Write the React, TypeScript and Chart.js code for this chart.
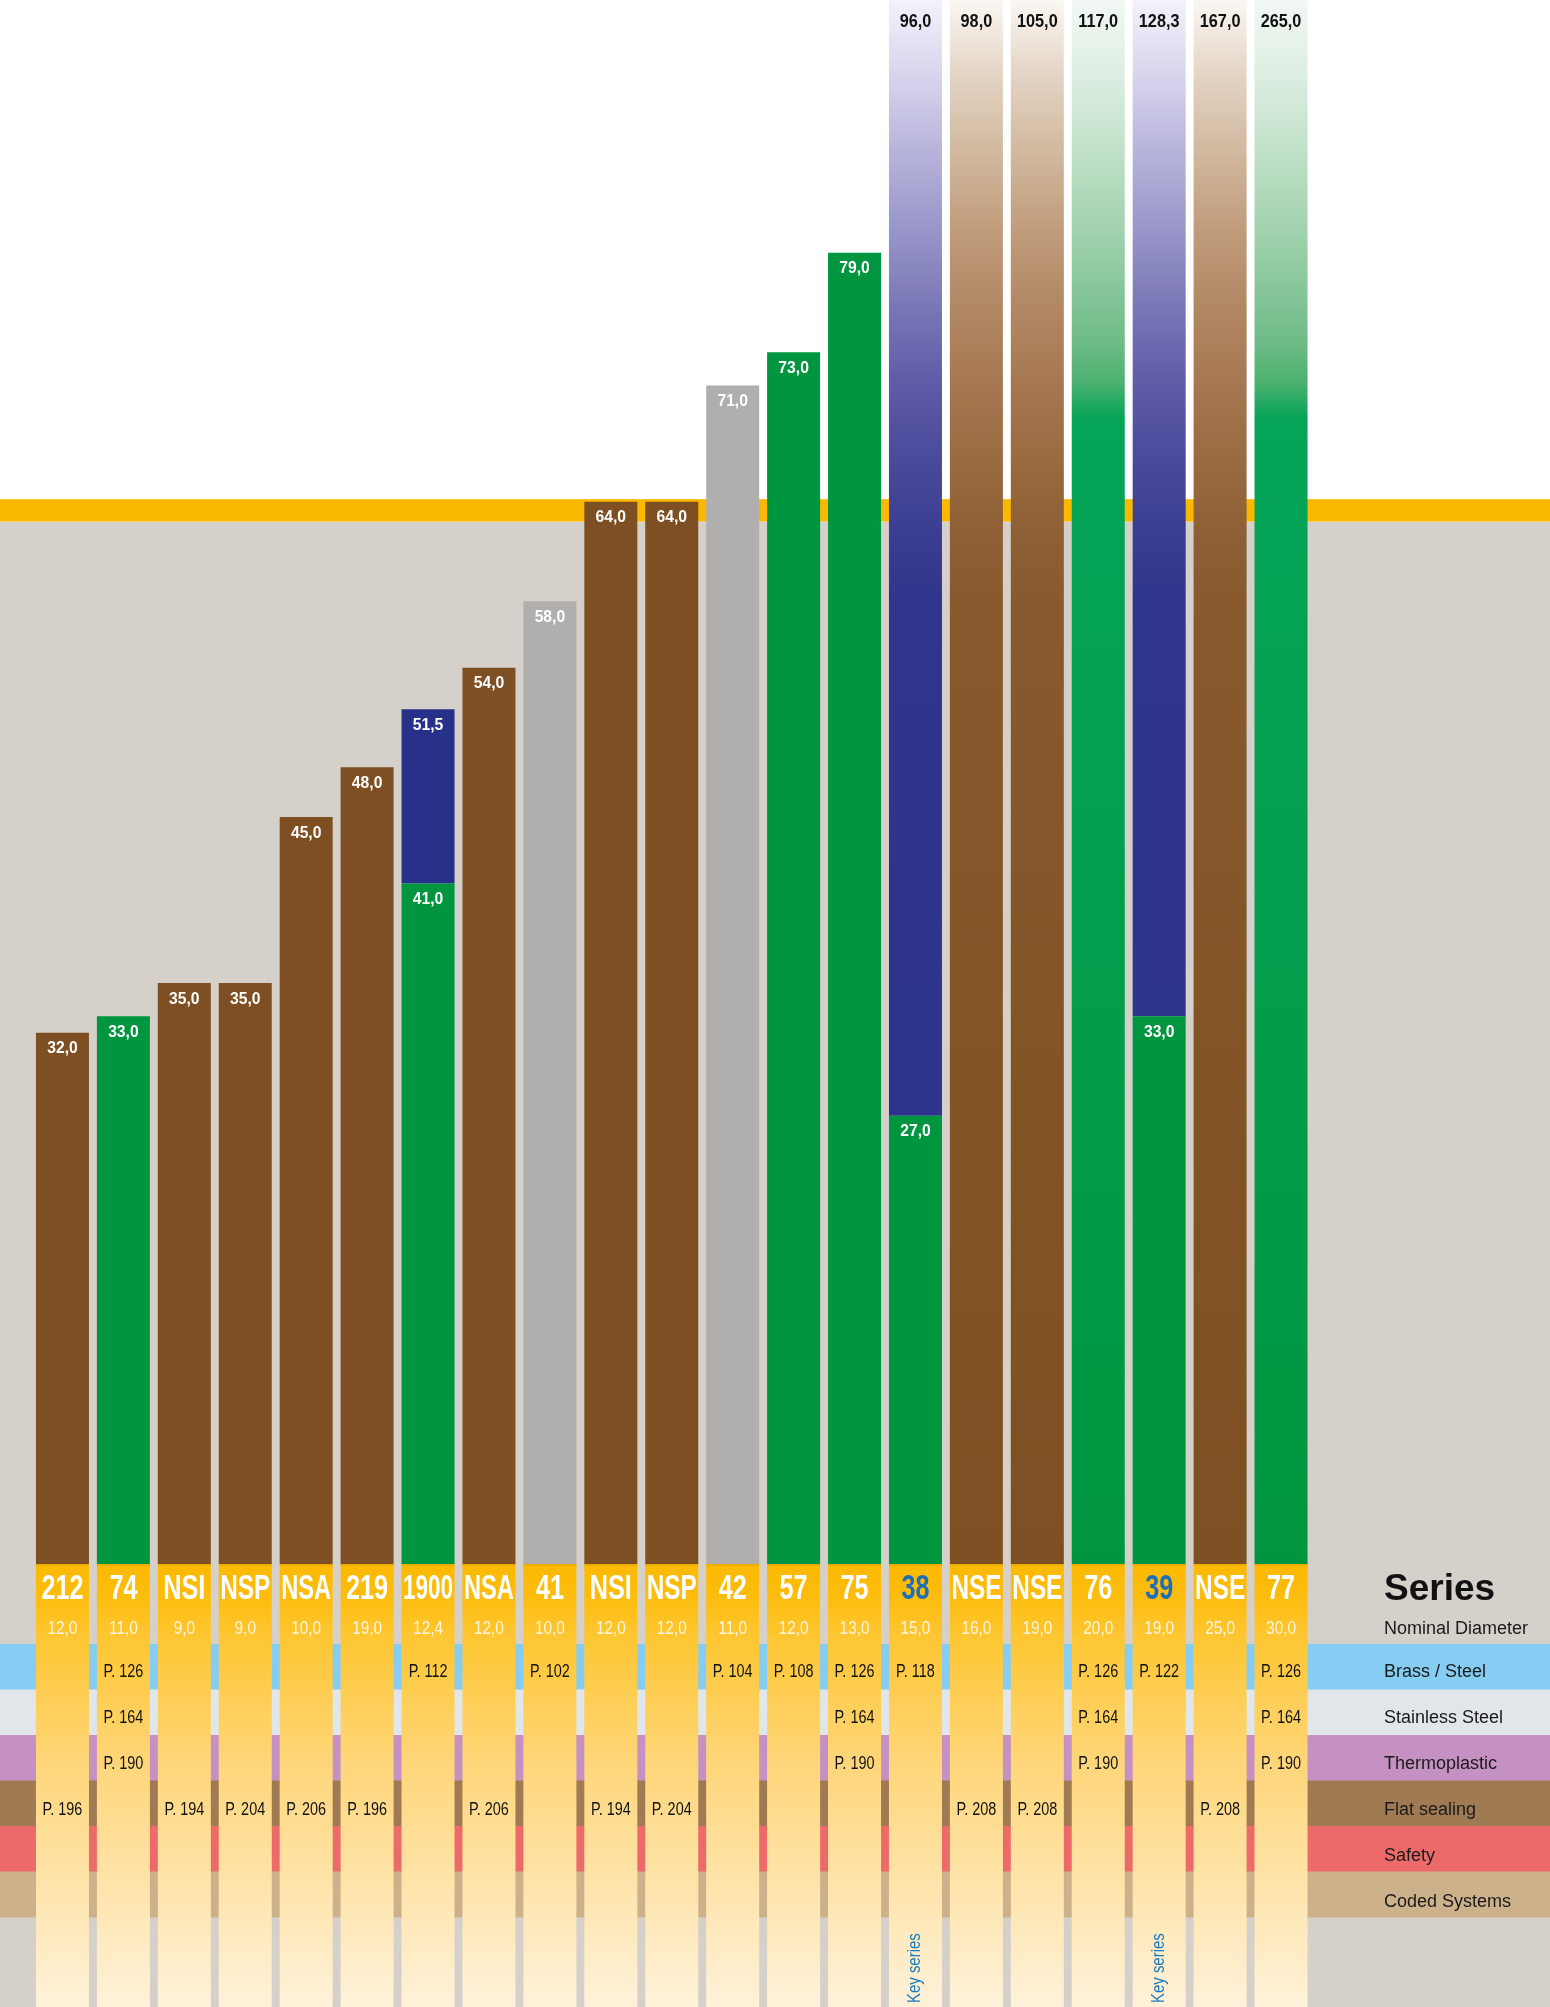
import { useEffect, useRef } from 'react';
import { Chart, registerables } from 'chart.js';

Chart.register(...registerables);

// ---------- DATA ----------
const SERIES = ['212', '74', 'NSI', 'NSP', 'NSA', '219', '1900', 'NSA', '41', 'NSI', 'NSP', '42', '57', '75', '38', 'NSE', 'NSE', '76', '39', 'NSE', '77'];
const DIAMETERS = ['12,0', '11,0', '9,0', '9,0', '10,0', '19,0', '12,4', '12,0', '10,0', '12,0', '12,0', '11,0', '12,0', '13,0', '15,0', '16,0', '19,0', '20,0', '19,0', '25,0', '30,0'];
const TOTALS = [32, 33, 35, 35, 45, 48, 51.5, 54, 58, 64, 64, 71, 73, 79, 96, 98, 105, 117, 128.3, 167, 265];
const SPLITS: (number | null)[] = [null, null, null, null, null, null, 41, null, null, null, null, null, null, null, 27, null, null, null, 33, null, null];
const MATERIAL = ['brown', 'green', 'brown', 'brown', 'brown', 'brown', 'green', 'brown', 'gray', 'brown', 'brown', 'gray', 'green', 'green', 'green', 'brown', 'brown', 'green', 'green', 'brown', 'green'];
const UPPER_MATERIAL = 'blue';
const KEY_SERIES = [14, 18];

const ROW_LABELS = ['Brass / Steel', 'Stainless Steel', 'Thermoplastic', 'Flat sealing', 'Safety', 'Coded Systems'];
const BRASS = ['', 'P. 126', '', '', '', '', 'P. 112', '', 'P. 102', '', '', 'P. 104', 'P. 108', 'P. 126', 'P. 118', '', '', 'P. 126', 'P. 122', '', 'P. 126'];
const STAINLESS = ['', 'P. 164', '', '', '', '', '', '', '', '', '', '', '', 'P. 164', '', '', '', 'P. 164', '', '', 'P. 164'];
const THERMO = ['', 'P. 190', '', '', '', '', '', '', '', '', '', '', '', 'P. 190', '', '', '', 'P. 190', '', '', 'P. 190'];
const FLAT = ['P. 196', '', 'P. 194', 'P. 204', 'P. 206', 'P. 196', '', 'P. 206', '', 'P. 194', 'P. 204', '', '', '', '', 'P. 208', 'P. 208', '', '', 'P. 208', ''];
const SAFETY = SERIES.map(() => '');
const CODED = SERIES.map(() => '');
const PAGE_ROWS = [BRASS, STAINLESS, THERMO, FLAT, SAFETY, CODED];

const Y_MAX = 94.22;
const BAND_FROM = 62.8;
const BAND_TO = 64.15;

// ---------- STYLE ----------
const W = 1550;
const H = 2007;
const FONT = "'Liberation Sans', Arial, sans-serif";
const SOLID: Record<string, string> = { brown: '#7e4f22', green: '#009640', gray: '#b0afad', blue: '#28318a' };
const FADE: Record<string, [number, string][]> = {
  brown: [[0, '#faf7f3'], [77, '#e3d3c3'], [153, '#d1b89e'], [230, '#c09c7b'], [306, '#b28864'], [382, '#a57852'], [459, '#996b40'], [536, '#8e5f34'], [597, '#895a2e'], [1100, '#825325'], [1564, '#7e4f22']],
  green: [[0, '#f2f8f4'], [77, '#dcede1'], [153, '#bfe0c7'], [230, '#a1d2ad'], [306, '#80c394'], [344, '#6dbb85'], [382, '#4bb170'], [419, '#05a457'], [1564, '#009640']],
  blue: [[0, '#f3f2fa'], [77, '#d6d4ec'], [153, '#b6b3db'], [230, '#9896c9'], [306, '#7a77b7'], [382, '#5f5ca8'], [459, '#4a4a9b'], [536, '#3a3d91'], [597, '#30368b'], [1564, '#28318a']],
};
const ROW_COLORS = ['#85cdf2', '#e1e6ea', '#c590c2', '#a07a52', '#ec6b6a', '#cdb18a'];
const BG_GRAY = '#d5d0ca';
const BAND_ORANGE = '#fbb800';
const ROW_TOP = 1644;
const ROW_H = 45.5;

const fmt = (v: number) => v.toFixed(1).replace('.', ',');

function fill(chart: any, mat: string, truncated: boolean) {
  const area = chart.chartArea;
  if (!truncated || !area) return SOLID[mat];
  const g = chart.ctx.createLinearGradient(0, area.top, 0, area.bottom);
  const span = area.bottom - area.top;
  FADE[mat].forEach(([y, c]) => g.addColorStop(Math.min(1, y / span), c));
  return g;
}

function txt(ctx: CanvasRenderingContext2D, s: string, x: number, y: number, font: string, color: string, sx = 1, align: CanvasTextAlign = 'center', maxW = 0) {
  ctx.save();
  ctx.font = font;
  let k = sx;
  if (maxW > 0) {
    const w = ctx.measureText(s).width;
    k = Math.min(sx, maxW / w);
  }
  ctx.translate(x, y);
  ctx.scale(k, 1);
  ctx.fillStyle = color;
  ctx.textAlign = align;
  ctx.textBaseline = 'middle';
  ctx.fillText(s, 0, 0);
  ctx.restore();
}

const backgroundPlugin = {
  id: 'bgPlugin',
  beforeDraw(chart: any) {
    const { ctx, scales } = chart;
    const y = scales.y;
    const bTop = y.getPixelForValue(BAND_TO);
    const bBot = y.getPixelForValue(BAND_FROM);
    ctx.save();
    ctx.fillStyle = '#ffffff';
    ctx.fillRect(0, 0, W, H);
    ctx.fillStyle = BG_GRAY;
    ctx.fillRect(0, bBot, W, H - bBot);
    ctx.fillStyle = BAND_ORANGE;
    ctx.fillRect(0, bTop, W, bBot - bTop);
    ROW_COLORS.forEach((c, k) => {
      ctx.fillStyle = c;
      ctx.fillRect(0, ROW_TOP + k * ROW_H, W, ROW_H + 0.5);
    });
    ctx.restore();
  },
  afterDatasetsDraw(chart: any) {
    const { ctx, chartArea, scales } = chart;
    const y = scales.y;
    const meta = chart.getDatasetMeta(0);
    const colTop = chartArea.bottom;
    ctx.save();
    meta.data.forEach((el: any, i: number) => {
      const { x, width } = el.getProps(['x', 'width'], true);
      const g = ctx.createLinearGradient(0, colTop, 0, H);
      g.addColorStop(0, '#fcb900');
      g.addColorStop(0.08, '#fdbd10');
      g.addColorStop(0.16, '#fec631');
      g.addColorStop(0.45, '#fed67a');
      g.addColorStop(0.8, '#fee8b8');
      g.addColorStop(1, '#fff2da');
      ctx.fillStyle = g;
      ctx.fillRect(x - width / 2, colTop, width, H - colTop);
      ctx.fillStyle = '#e9ab00';
      ctx.fillRect(x - width / 2, colTop, width, 1.5);

      const nameColor = KEY_SERIES.includes(i) ? '#1f6fb8' : '#ffffff';
      txt(ctx, SERIES[i], x, 1589, `bold 35px ${FONT}`, nameColor, 0.72, 'center', 50);
      txt(ctx, DIAMETERS[i], x, 1629, `18.5px ${FONT}`, '#fff6e0', 0.83);
      PAGE_ROWS.forEach((row, k) => {
        if (row[i]) txt(ctx, row[i], x, 1672 + k * 46, `18.5px ${FONT}`, '#111111', 0.78);
      });
      if (KEY_SERIES.includes(i)) {
        ctx.save();
        ctx.translate(x, 2003);
        ctx.rotate(-Math.PI / 2);
        ctx.scale(0.83, 1);
        ctx.font = `18px ${FONT}`;
        ctx.fillStyle = '#1a7cc0';
        ctx.textAlign = 'left';
        ctx.textBaseline = 'middle';
        ctx.fillText('Key series', 0, 0);
        ctx.restore();
      }

      const total = TOTALS[i];
      if (total > Y_MAX) {
        txt(ctx, fmt(total), x, chartArea.top + 22, `bold 17.5px ${FONT}`, '#111111', 0.93);
      } else {
        txt(ctx, fmt(total), x, y.getPixelForValue(total) + 16, `bold 16.5px ${FONT}`, '#ffffff', 0.95);
      }
      const sp = SPLITS[i];
      if (sp != null) {
        txt(ctx, fmt(sp), x, y.getPixelForValue(sp) + 16, `bold 16.5px ${FONT}`, '#ffffff', 0.95);
      }
    });

    const lx = 1384;
    txt(ctx, 'Series', lx, 1590, `bold 37px ${FONT}`, '#111111', 1, 'left');
    txt(ctx, 'Nominal Diameter', lx, 1629, `18px ${FONT}`, '#1a1a1a', 1, 'left');
    ROW_LABELS.forEach((l, k) => {
      txt(ctx, l, lx, 1672 + k * 46, `18px ${FONT}`, '#1a1a1a', 1, 'left');
    });
    ctx.restore();
  },
};

export default function App() {
  const ref = useRef<HTMLCanvasElement>(null);
  useEffect(() => {
    document.body.style.margin = '0';
    const lower = TOTALS.map((t, i) => (SPLITS[i] != null ? (SPLITS[i] as number) : t));
    const upper = TOTALS.map((t, i) => (SPLITS[i] != null ? t - (SPLITS[i] as number) : null));
    const chart = new Chart(ref.current as HTMLCanvasElement, {
      type: 'bar',
      data: {
        labels: SERIES,
        datasets: [
          {
            label: 'lower',
            data: lower,
            backgroundColor: (c: any) => fill(c.chart, MATERIAL[c.dataIndex], SPLITS[c.dataIndex] == null && TOTALS[c.dataIndex] > Y_MAX),
            borderWidth: 0,
            barPercentage: 0.87,
            categoryPercentage: 1,
            stack: 's',
          },
          {
            label: 'upper',
            data: upper,
            backgroundColor: (c: any) => fill(c.chart, UPPER_MATERIAL, TOTALS[c.dataIndex] > Y_MAX),
            borderWidth: 0,
            barPercentage: 0.87,
            categoryPercentage: 1,
            stack: 's',
          },
        ],
      },
      options: {
        responsive: false,
        animation: false,
        devicePixelRatio: 1,
        layout: { padding: { left: 32, right: 238.5, top: 0, bottom: 443 } },
        scales: {
          x: { display: false, stacked: true },
          y: { display: false, stacked: true, min: 0, max: Y_MAX },
        },
        plugins: { legend: { display: false }, tooltip: { enabled: false } },
      },
      plugins: [backgroundPlugin],
    } as any);
    return () => chart.destroy();
  }, []);
  return <canvas ref={ref} width={W} height={H} style={{ display: 'block', width: W, height: H }} />;
}
